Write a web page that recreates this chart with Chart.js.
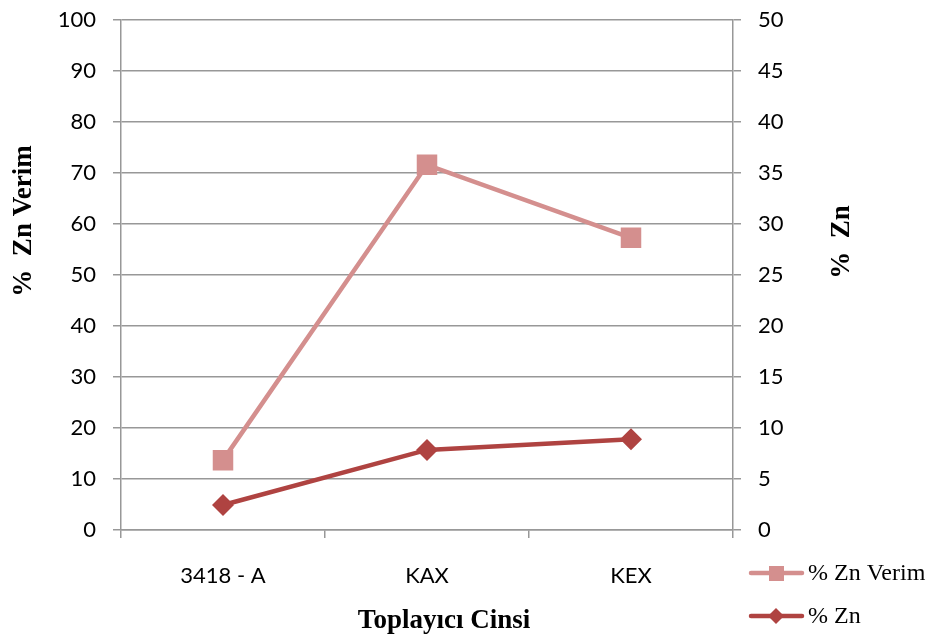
<!DOCTYPE html>
<html>
<head>
<meta charset="utf-8">
<script src="https://cdn.jsdelivr.net/npm/chart.js@4/dist/chart.umd.min.js"></script>
<style>
html,body{margin:0;padding:0;background:#fff;}
#wrap{position:relative;width:932px;height:644px;}
</style>
</head>
<body>
<div id="wrap"><canvas id="c" width="932" height="644"></canvas></div>
<script>
const categories = ["3418 - A", "KAX", "KEX"];
const znVerim = [13.7, 71.6, 57.3];
const zn = [2.45, 7.85, 8.9];
const leftTitle = "%  Zn Verim";
const rightTitle = "%  Zn";
const xTitle = "Toplayıcı Cinsi";
const seriesNames = ["% Zn Verim", "% Zn"];

const colVerim = "#D48F8E";
const colZn = "#AF4341";
const gridCol = "#989898";
const tickFont = {family: "Lato", size: 22};

const titlesAndLegend = {
  id: "titlesAndLegend",
  afterDraw(chart) {
    const ctx = chart.ctx;
    ctx.save();
    ctx.fillStyle = "#000";
    ctx.font = "bold 27px 'Liberation Serif'";
    ctx.textAlign = "center";
    ctx.textBaseline = "middle";
    ctx.save();
    ctx.translate(24, 221);
    ctx.rotate(-Math.PI / 2);
    ctx.fillText(leftTitle, 0, 0);
    ctx.restore();
    ctx.save();
    ctx.translate(842, 242);
    ctx.rotate(-Math.PI / 2);
    ctx.fillText(rightTitle, 0, 0);
    ctx.restore();
    ctx.fillText(xTitle, 444, 621);
    const items = [
      {label: seriesNames[0], color: colVerim, style: "rect", y: 573},
      {label: seriesNames[1], color: colZn, style: "rectRot", y: 616}
    ];
    ctx.font = "24px 'Liberation Serif'";
    ctx.textAlign = "left";
    items.forEach(it => {
      ctx.strokeStyle = it.color;
      ctx.lineWidth = 4.5;
      ctx.lineCap = "round";
      ctx.beginPath();
      ctx.moveTo(751, it.y);
      ctx.lineTo(802, it.y);
      ctx.stroke();
      ctx.fillStyle = it.color;
      if (it.style === "rect") {
        ctx.fillRect(769, it.y - 7, 15, 15);
      } else {
        ctx.beginPath();
        ctx.moveTo(776, it.y - 8);
        ctx.lineTo(784, it.y);
        ctx.lineTo(776, it.y + 8);
        ctx.lineTo(768, it.y);
        ctx.closePath();
        ctx.fill();
      }
      ctx.fillStyle = "#000";
      ctx.fillText(it.label, 808, it.y + 1);
    });
    ctx.restore();
  }
};

function fitV(width) {
  return function(s) {
    s.width = width;
    s.paddingTop = 0;
    s.paddingBottom = 0;
  };
}

new Chart(document.getElementById("c"), {
  type: "line",
  data: {
    labels: categories,
    datasets: [
      {
        label: seriesNames[0],
        data: znVerim,
        yAxisID: "y",
        borderColor: colVerim,
        backgroundColor: colVerim,
        borderWidth: 4.5,
        pointStyle: "rect",
        pointRadius: 14.5,
        pointHoverRadius: 14.5,
        pointBorderWidth: 0,
        tension: 0
      },
      {
        label: seriesNames[1],
        data: zn,
        yAxisID: "y1",
        borderColor: colZn,
        backgroundColor: colZn,
        borderWidth: 4.5,
        pointStyle: "rectRot",
        pointRadius: 11,
        pointHoverRadius: 11,
        pointBorderWidth: 0,
        tension: 0
      }
    ]
  },
  options: {
    responsive: false,
    animation: false,
    events: [],
    layout: {padding: {top: 20, left: 0, right: 0, bottom: 0}},
    plugins: {legend: {display: false}, tooltip: {enabled: false}},
    scales: {
      x: {
        offset: true,
        grid: {offset: true, drawOnChartArea: false, drawTicks: true, tickLength: 8, color: gridCol, lineWidth: 1.5},
        border: {color: gridCol, width: 1.5},
        ticks: {font: tickFont, color: "#000", padding: 25, maxRotation: 0},
        afterFit(s) { s.height = 114; s.paddingLeft = 0; s.paddingRight = 0; }
      },
      y: {
        position: "left",
        min: 0, max: 100,
        grid: {color: gridCol, lineWidth: 1.5, tickLength: 8},
        border: {color: gridCol, width: 1.5},
        ticks: {stepSize: 10, font: tickFont, color: "#000", padding: 17},
        afterFit: fitV(121)
      },
      y1: {
        position: "right",
        min: 0, max: 50,
        grid: {drawOnChartArea: false, color: gridCol, lineWidth: 1.5, tickLength: 8},
        border: {color: gridCol, width: 1.5},
        ticks: {stepSize: 5, font: tickFont, color: "#000", padding: 17},
        afterFit: fitV(199)
      }
    }
  },
  plugins: [titlesAndLegend]
});
</script>
</body>
</html>
